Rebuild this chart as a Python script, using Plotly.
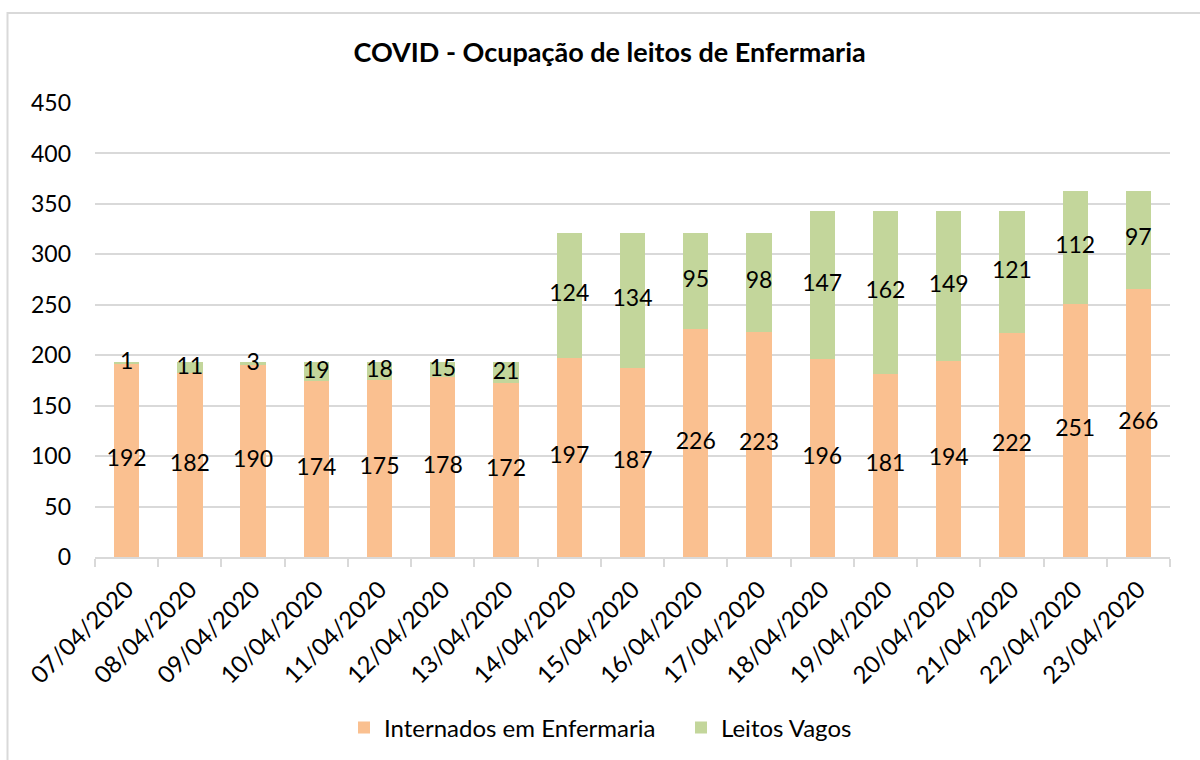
import plotly.graph_objects as go

dates = ["07/04/2020", "08/04/2020", "09/04/2020", "10/04/2020", "11/04/2020", "12/04/2020",
         "13/04/2020", "14/04/2020", "15/04/2020", "16/04/2020", "17/04/2020", "18/04/2020",
         "19/04/2020", "20/04/2020", "21/04/2020", "22/04/2020", "23/04/2020"]
internados = [192, 182, 190, 174, 175, 178, 172, 197, 187, 226, 223, 196, 181, 194, 222, 251, 266]
vagos = [1, 11, 3, 19, 18, 15, 21, 124, 134, 95, 98, 147, 162, 149, 121, 112, 97]

FONT = "Lato, Carlito, 'Open Sans', sans-serif"
ORANGE = "#FAC090"
GREEN = "#C3D69B"

fig = go.Figure()
fig.add_trace(go.Bar(x=dates, y=internados, name="Internados em Enfermaria",
                     marker=dict(color=ORANGE, line=dict(width=0))))
fig.add_trace(go.Bar(x=dates, y=vagos, name="Leitos Vagos",
                     marker=dict(color=GREEN, line=dict(width=0))))

# data labels (centered in each segment)
fig.add_trace(go.Scatter(x=dates, y=[v / 2 for v in internados], mode="text",
                         text=[str(v) for v in internados], showlegend=False,
                         textfont=dict(family=FONT, size=23, color="#000000"),
                         hoverinfo="skip"))
fig.add_trace(go.Scatter(x=dates, y=[a + b / 2 for a, b in zip(internados, vagos)], mode="text",
                         text=[str(v) for v in vagos], showlegend=False,
                         textfont=dict(family=FONT, size=23, color="#000000"),
                         hoverinfo="skip"))

L, R, T, B = 95, 30, 103, 203
W, H = 1200, 760
pw, ph = W - L - R, H - T - B

def px(x):
    return (x - L) / pw

def py(y):
    return (H - B - y) / ph

fig.update_layout(
    width=W, height=H,
    margin=dict(l=L, r=R, t=T, b=B, autoexpand=False),
    paper_bgcolor="white", plot_bgcolor="white",
    barmode="stack", bargap=0.6,
    font=dict(family=FONT, size=22, color="#000000"),
    title=dict(text="<b>COVID - Ocupação de leitos de Enfermaria</b>",
               x=0.508, xanchor="center", y=1 - 53 / H, yanchor="middle",
               font=dict(family=FONT, size=27, color="#000000")),
    legend=dict(orientation="h", x=px(344), xanchor="left", y=py(728), yanchor="middle",
                font=dict(family=FONT, size=24, color="#000000"),
                itemsizing="constant", traceorder="normal", itemwidth=30,
                entrywidth=292, entrywidthmode="pixels"),
    xaxis=dict(type="category", range=[-0.5, 16.5], tickangle=-45, automargin=False,
               showline=True, linecolor="#D9D9D9", linewidth=1.5,
               ticks="outside", tickson="boundaries", ticklen=8, tickcolor="#D9D9D9",
               tickwidth=1.5, ticklabelstandoff=7,
               tickfont=dict(family=FONT, size=24, color="#000000"),
               showgrid=False, fixedrange=True),
    yaxis=dict(range=[0, 450], dtick=50, showgrid=True, gridcolor="#D9D9D9", gridwidth=1.5,
               zeroline=False, showline=False, ticks="", automargin=False,
               ticklabelstandoff=23,
               tickfont=dict(family=FONT, size=23, color="#000000"),
               fixedrange=True),
    shapes=[dict(type="rect", xref="paper", yref="paper",
                 x0=px(7.5), x1=px(1210), y0=py(770), y1=py(13),
                 line=dict(color="#D9D9D9", width=2), fillcolor="rgba(0,0,0,0)",
                 layer="below")],
)

fig.write_html("out.html", config={"displayModeBar": False},
               post_script="document.body.style.margin='0';")
